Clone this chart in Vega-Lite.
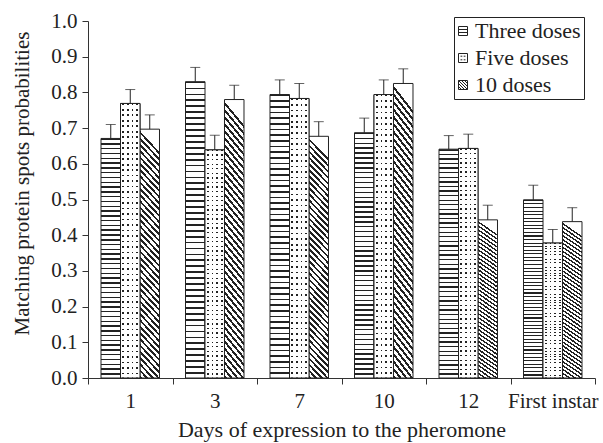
{
"$schema": "https://vega.github.io/schema/vega-lite/v6.json",
"width": 507, "height": 357,
"autosize": {"type": "none"},
"padding": {"left": 88, "top": 21, "right": 8, "bottom": 65},
"background": "white",
"config": {
 "font": "Liberation Serif",
 "view": {"stroke": null},
 "axis": {"labelFont": "Liberation Serif", "titleFont": "Liberation Serif", "labelFontSize": 21, "titleFontSize": 21, "titleFontWeight": "normal", "labelColor": "#222", "titleColor": "#222", "domainColor": "#333", "tickColor": "#333", "grid": false, "domainWidth": 1, "tickWidth": 1, "labelOverlap": false},
 "legend": {"labelFont": "Liberation Serif", "labelFontSize": 22, "labelColor": "#222"}
},
"data": {"values": [
 {"day": "1", "dose": "Three doses", "mean": 0.671, "upper": 0.710},
 {"day": "1", "dose": "Five doses", "mean": 0.769, "upper": 0.808},
 {"day": "1", "dose": "10 doses", "mean": 0.697, "upper": 0.737},
 {"day": "3", "dose": "Three doses", "mean": 0.830, "upper": 0.870},
 {"day": "3", "dose": "Five doses", "mean": 0.639, "upper": 0.680},
 {"day": "3", "dose": "10 doses", "mean": 0.780, "upper": 0.820},
 {"day": "7", "dose": "Three doses", "mean": 0.794, "upper": 0.835},
 {"day": "7", "dose": "Five doses", "mean": 0.783, "upper": 0.825},
 {"day": "7", "dose": "10 doses", "mean": 0.677, "upper": 0.718},
 {"day": "10", "dose": "Three doses", "mean": 0.687, "upper": 0.728},
 {"day": "10", "dose": "Five doses", "mean": 0.794, "upper": 0.835},
 {"day": "10", "dose": "10 doses", "mean": 0.825, "upper": 0.866},
 {"day": "12", "dose": "Three doses", "mean": 0.641, "upper": 0.679},
 {"day": "12", "dose": "Five doses", "mean": 0.643, "upper": 0.683},
 {"day": "12", "dose": "10 doses", "mean": 0.443, "upper": 0.484},
 {"day": "First instar", "dose": "Three doses", "mean": 0.499, "upper": 0.540},
 {"day": "First instar", "dose": "Five doses", "mean": 0.378, "upper": 0.416},
 {"day": "First instar", "dose": "10 doses", "mean": 0.438, "upper": 0.477}
]},
"encoding": {
 "x": {"field": "day", "type": "nominal", "sort": ["1","3","7","10","12","First instar"],
  "scale": {"domain": ["1","3","7","10","12","First instar"], "paddingInner": 0, "paddingOuter": 0},
  "axis": {"title": "Days of expression to the pheromone", "titleFontSize": 22, "labelAngle": 0, "tickBand": "extent", "tickSize": 6, "labelPadding": 6, "titleBaseline": "alphabetic", "titleY": 58}},
 "xOffset": {"field": "dose", "type": "nominal", "sort": ["Three doses","Five doses","10 doses"],
  "scale": {"domain": ["Three doses","Five doses","10 doses"], "paddingInner": 0, "paddingOuter": 0.667}}
},
"layer": [
 {"mark": {"type": "bar", "stroke": "#222", "strokeWidth": 1},
  "encoding": {
   "y": {"field": "mean", "type": "quantitative", "title": "Matching protein spots probabilities",
    "scale": {"domain": [0, 1], "nice": false},
    "axis": {"values": [0,0.1,0.2,0.3,0.4,0.5,0.6,0.7,0.8,0.9,1.0], "tickCount": 11, "format": ".1f", "tickSize": 6, "labelPadding": 5, "labelOverlap": false, "titleX": -60, "titleY": 162, "titleBaseline": "alphabetic"}},
   "fill": {"field": "dose", "type": "nominal", "sort": ["Three doses","Five doses","10 doses"],
    "scale": {"domain": ["Three doses","Five doses","10 doses"], "range": ["#ffffff","#ffffff","#ffffff"]},
    "legend": {"title": null, "orient": "none", "legendX": 366, "legendY": -4, "strokeColor": "#222", "fillColor": "white", "padding": 3, "rowPadding": 5, "symbolSize": 81, "symbolStrokeWidth": 1, "symbolStrokeColor": "#222", "symbolFillColor": "#fff", "symbolOffset": -5, "labelOffset": 1,
     "encode": {"symbols": {"update": {
      "fill": {"value": "#ffffff"},
      "stroke": {"value": "#222"},
      "shape": [
       {"test": "datum.value === 'Three doses'", "value": "M-1,-1H1V1H-1Z M-1,-0.33H1 M-1,0.33H1"},
       {"test": "datum.value === 'Five doses'", "value": "M-1,-1H1V1H-1Z M-0.55,-0.4H-0.15 M0.15,-0.4H0.55 M-0.55,0.4H-0.15 M0.15,0.4H0.55"},
       {"value": "M-1,-1H1V1H-1Z M-1,-1L1,1 M-1,-0.33L0.33,1 M-0.33,-1L1,0.33 M-1,0.33L-0.33,1 M0.33,-1L1,-0.33"}
      ]}}}},
    "condition": [
     {"test": "datum.dose === '10 doses'", "value": {"gradient": "linear", "x1": 0, "y1": 1, "x2": 0.085, "y2": 0, "stops": [
{"offset":0,"color":"#222"},{"offset":0.011,"color":"#222"},{"offset":0.011,"color":"#fff"},{"offset":0.025,"color":"#fff"},
{"offset":0.025,"color":"#222"},{"offset":0.036,"color":"#222"},{"offset":0.036,"color":"#fff"},{"offset":0.05,"color":"#fff"},
{"offset":0.05,"color":"#222"},{"offset":0.061,"color":"#222"},{"offset":0.061,"color":"#fff"},{"offset":0.075,"color":"#fff"},
{"offset":0.075,"color":"#222"},{"offset":0.086,"color":"#222"},{"offset":0.086,"color":"#fff"},{"offset":0.1,"color":"#fff"},
{"offset":0.1,"color":"#222"},{"offset":0.111,"color":"#222"},{"offset":0.111,"color":"#fff"},{"offset":0.125,"color":"#fff"},
{"offset":0.125,"color":"#222"},{"offset":0.136,"color":"#222"},{"offset":0.136,"color":"#fff"},{"offset":0.15,"color":"#fff"},
{"offset":0.15,"color":"#222"},{"offset":0.161,"color":"#222"},{"offset":0.161,"color":"#fff"},{"offset":0.175,"color":"#fff"},
{"offset":0.175,"color":"#222"},{"offset":0.186,"color":"#222"},{"offset":0.186,"color":"#fff"},{"offset":0.2,"color":"#fff"},
{"offset":0.2,"color":"#222"},{"offset":0.211,"color":"#222"},{"offset":0.211,"color":"#fff"},{"offset":0.225,"color":"#fff"},
{"offset":0.225,"color":"#222"},{"offset":0.236,"color":"#222"},{"offset":0.236,"color":"#fff"},{"offset":0.25,"color":"#fff"},
{"offset":0.25,"color":"#222"},{"offset":0.261,"color":"#222"},{"offset":0.261,"color":"#fff"},{"offset":0.275,"color":"#fff"},
{"offset":0.275,"color":"#222"},{"offset":0.286,"color":"#222"},{"offset":0.286,"color":"#fff"},{"offset":0.3,"color":"#fff"},
{"offset":0.3,"color":"#222"},{"offset":0.311,"color":"#222"},{"offset":0.311,"color":"#fff"},{"offset":0.325,"color":"#fff"},
{"offset":0.325,"color":"#222"},{"offset":0.336,"color":"#222"},{"offset":0.336,"color":"#fff"},{"offset":0.35,"color":"#fff"},
{"offset":0.35,"color":"#222"},{"offset":0.361,"color":"#222"},{"offset":0.361,"color":"#fff"},{"offset":0.375,"color":"#fff"},
{"offset":0.375,"color":"#222"},{"offset":0.386,"color":"#222"},{"offset":0.386,"color":"#fff"},{"offset":0.4,"color":"#fff"},
{"offset":0.4,"color":"#222"},{"offset":0.411,"color":"#222"},{"offset":0.411,"color":"#fff"},{"offset":0.425,"color":"#fff"},
{"offset":0.425,"color":"#222"},{"offset":0.436,"color":"#222"},{"offset":0.436,"color":"#fff"},{"offset":0.45,"color":"#fff"},
{"offset":0.45,"color":"#222"},{"offset":0.461,"color":"#222"},{"offset":0.461,"color":"#fff"},{"offset":0.475,"color":"#fff"},
{"offset":0.475,"color":"#222"},{"offset":0.486,"color":"#222"},{"offset":0.486,"color":"#fff"},{"offset":0.5,"color":"#fff"},
{"offset":0.5,"color":"#222"},{"offset":0.511,"color":"#222"},{"offset":0.511,"color":"#fff"},{"offset":0.525,"color":"#fff"},
{"offset":0.525,"color":"#222"},{"offset":0.536,"color":"#222"},{"offset":0.536,"color":"#fff"},{"offset":0.55,"color":"#fff"},
{"offset":0.55,"color":"#222"},{"offset":0.561,"color":"#222"},{"offset":0.561,"color":"#fff"},{"offset":0.575,"color":"#fff"},
{"offset":0.575,"color":"#222"},{"offset":0.586,"color":"#222"},{"offset":0.586,"color":"#fff"},{"offset":0.6,"color":"#fff"},
{"offset":0.6,"color":"#222"},{"offset":0.611,"color":"#222"},{"offset":0.611,"color":"#fff"},{"offset":0.625,"color":"#fff"},
{"offset":0.625,"color":"#222"},{"offset":0.636,"color":"#222"},{"offset":0.636,"color":"#fff"},{"offset":0.65,"color":"#fff"},
{"offset":0.65,"color":"#222"},{"offset":0.661,"color":"#222"},{"offset":0.661,"color":"#fff"},{"offset":0.675,"color":"#fff"},
{"offset":0.675,"color":"#222"},{"offset":0.686,"color":"#222"},{"offset":0.686,"color":"#fff"},{"offset":0.7,"color":"#fff"},
{"offset":0.7,"color":"#222"},{"offset":0.711,"color":"#222"},{"offset":0.711,"color":"#fff"},{"offset":0.725,"color":"#fff"},
{"offset":0.725,"color":"#222"},{"offset":0.736,"color":"#222"},{"offset":0.736,"color":"#fff"},{"offset":0.75,"color":"#fff"},
{"offset":0.75,"color":"#222"},{"offset":0.761,"color":"#222"},{"offset":0.761,"color":"#fff"},{"offset":0.775,"color":"#fff"},
{"offset":0.775,"color":"#222"},{"offset":0.786,"color":"#222"},{"offset":0.786,"color":"#fff"},{"offset":0.8,"color":"#fff"},
{"offset":0.8,"color":"#222"},{"offset":0.811,"color":"#222"},{"offset":0.811,"color":"#fff"},{"offset":0.825,"color":"#fff"},
{"offset":0.825,"color":"#222"},{"offset":0.836,"color":"#222"},{"offset":0.836,"color":"#fff"},{"offset":0.85,"color":"#fff"},
{"offset":0.85,"color":"#222"},{"offset":0.861,"color":"#222"},{"offset":0.861,"color":"#fff"},{"offset":0.875,"color":"#fff"},
{"offset":0.875,"color":"#222"},{"offset":0.886,"color":"#222"},{"offset":0.886,"color":"#fff"},{"offset":0.9,"color":"#fff"},
{"offset":0.9,"color":"#222"},{"offset":0.911,"color":"#222"},{"offset":0.911,"color":"#fff"},{"offset":0.925,"color":"#fff"},
{"offset":0.925,"color":"#222"},{"offset":0.936,"color":"#222"},{"offset":0.936,"color":"#fff"},{"offset":0.95,"color":"#fff"},
{"offset":0.95,"color":"#222"},{"offset":0.961,"color":"#222"},{"offset":0.961,"color":"#fff"},{"offset":0.975,"color":"#fff"},
{"offset":0.975,"color":"#222"},{"offset":0.986,"color":"#222"},{"offset":0.986,"color":"#fff"},{"offset":1,"color":"#fff"}
     ]}},
     {"test": "datum.dose !== '10 doses'", "value": {"gradient": "linear", "x1": 1, "y1": 0, "x2": 1, "y2": 1, "stops": [
{"offset":0,"color":"#222"},{"offset":0.006,"color":"#222"},{"offset":0.006,"color":"#fff"},{"offset":0.02,"color":"#fff"},
{"offset":0.02,"color":"#222"},{"offset":0.026,"color":"#222"},{"offset":0.026,"color":"#fff"},{"offset":0.04,"color":"#fff"},
{"offset":0.04,"color":"#222"},{"offset":0.046,"color":"#222"},{"offset":0.046,"color":"#fff"},{"offset":0.06,"color":"#fff"},
{"offset":0.06,"color":"#222"},{"offset":0.066,"color":"#222"},{"offset":0.066,"color":"#fff"},{"offset":0.08,"color":"#fff"},
{"offset":0.08,"color":"#222"},{"offset":0.086,"color":"#222"},{"offset":0.086,"color":"#fff"},{"offset":0.1,"color":"#fff"},
{"offset":0.1,"color":"#222"},{"offset":0.106,"color":"#222"},{"offset":0.106,"color":"#fff"},{"offset":0.12,"color":"#fff"},
{"offset":0.12,"color":"#222"},{"offset":0.126,"color":"#222"},{"offset":0.126,"color":"#fff"},{"offset":0.14,"color":"#fff"},
{"offset":0.14,"color":"#222"},{"offset":0.146,"color":"#222"},{"offset":0.146,"color":"#fff"},{"offset":0.16,"color":"#fff"},
{"offset":0.16,"color":"#222"},{"offset":0.166,"color":"#222"},{"offset":0.166,"color":"#fff"},{"offset":0.18,"color":"#fff"},
{"offset":0.18,"color":"#222"},{"offset":0.186,"color":"#222"},{"offset":0.186,"color":"#fff"},{"offset":0.2,"color":"#fff"},
{"offset":0.2,"color":"#222"},{"offset":0.206,"color":"#222"},{"offset":0.206,"color":"#fff"},{"offset":0.22,"color":"#fff"},
{"offset":0.22,"color":"#222"},{"offset":0.226,"color":"#222"},{"offset":0.226,"color":"#fff"},{"offset":0.24,"color":"#fff"},
{"offset":0.24,"color":"#222"},{"offset":0.246,"color":"#222"},{"offset":0.246,"color":"#fff"},{"offset":0.26,"color":"#fff"},
{"offset":0.26,"color":"#222"},{"offset":0.266,"color":"#222"},{"offset":0.266,"color":"#fff"},{"offset":0.28,"color":"#fff"},
{"offset":0.28,"color":"#222"},{"offset":0.286,"color":"#222"},{"offset":0.286,"color":"#fff"},{"offset":0.3,"color":"#fff"},
{"offset":0.3,"color":"#222"},{"offset":0.306,"color":"#222"},{"offset":0.306,"color":"#fff"},{"offset":0.32,"color":"#fff"},
{"offset":0.32,"color":"#222"},{"offset":0.326,"color":"#222"},{"offset":0.326,"color":"#fff"},{"offset":0.34,"color":"#fff"},
{"offset":0.34,"color":"#222"},{"offset":0.346,"color":"#222"},{"offset":0.346,"color":"#fff"},{"offset":0.36,"color":"#fff"},
{"offset":0.36,"color":"#222"},{"offset":0.366,"color":"#222"},{"offset":0.366,"color":"#fff"},{"offset":0.38,"color":"#fff"},
{"offset":0.38,"color":"#222"},{"offset":0.386,"color":"#222"},{"offset":0.386,"color":"#fff"},{"offset":0.4,"color":"#fff"},
{"offset":0.4,"color":"#222"},{"offset":0.406,"color":"#222"},{"offset":0.406,"color":"#fff"},{"offset":0.42,"color":"#fff"},
{"offset":0.42,"color":"#222"},{"offset":0.426,"color":"#222"},{"offset":0.426,"color":"#fff"},{"offset":0.44,"color":"#fff"},
{"offset":0.44,"color":"#222"},{"offset":0.446,"color":"#222"},{"offset":0.446,"color":"#fff"},{"offset":0.46,"color":"#fff"},
{"offset":0.46,"color":"#222"},{"offset":0.466,"color":"#222"},{"offset":0.466,"color":"#fff"},{"offset":0.48,"color":"#fff"},
{"offset":0.48,"color":"#222"},{"offset":0.486,"color":"#222"},{"offset":0.486,"color":"#fff"},{"offset":0.5,"color":"#fff"},
{"offset":0.5,"color":"#222"},{"offset":0.506,"color":"#222"},{"offset":0.506,"color":"#fff"},{"offset":0.52,"color":"#fff"},
{"offset":0.52,"color":"#222"},{"offset":0.526,"color":"#222"},{"offset":0.526,"color":"#fff"},{"offset":0.54,"color":"#fff"},
{"offset":0.54,"color":"#222"},{"offset":0.546,"color":"#222"},{"offset":0.546,"color":"#fff"},{"offset":0.56,"color":"#fff"},
{"offset":0.56,"color":"#222"},{"offset":0.566,"color":"#222"},{"offset":0.566,"color":"#fff"},{"offset":0.58,"color":"#fff"},
{"offset":0.58,"color":"#222"},{"offset":0.586,"color":"#222"},{"offset":0.586,"color":"#fff"},{"offset":0.6,"color":"#fff"},
{"offset":0.6,"color":"#222"},{"offset":0.606,"color":"#222"},{"offset":0.606,"color":"#fff"},{"offset":0.62,"color":"#fff"},
{"offset":0.62,"color":"#222"},{"offset":0.626,"color":"#222"},{"offset":0.626,"color":"#fff"},{"offset":0.64,"color":"#fff"},
{"offset":0.64,"color":"#222"},{"offset":0.646,"color":"#222"},{"offset":0.646,"color":"#fff"},{"offset":0.66,"color":"#fff"},
{"offset":0.66,"color":"#222"},{"offset":0.666,"color":"#222"},{"offset":0.666,"color":"#fff"},{"offset":0.68,"color":"#fff"},
{"offset":0.68,"color":"#222"},{"offset":0.686,"color":"#222"},{"offset":0.686,"color":"#fff"},{"offset":0.7,"color":"#fff"},
{"offset":0.7,"color":"#222"},{"offset":0.706,"color":"#222"},{"offset":0.706,"color":"#fff"},{"offset":0.72,"color":"#fff"},
{"offset":0.72,"color":"#222"},{"offset":0.726,"color":"#222"},{"offset":0.726,"color":"#fff"},{"offset":0.74,"color":"#fff"},
{"offset":0.74,"color":"#222"},{"offset":0.746,"color":"#222"},{"offset":0.746,"color":"#fff"},{"offset":0.76,"color":"#fff"},
{"offset":0.76,"color":"#222"},{"offset":0.766,"color":"#222"},{"offset":0.766,"color":"#fff"},{"offset":0.78,"color":"#fff"},
{"offset":0.78,"color":"#222"},{"offset":0.786,"color":"#222"},{"offset":0.786,"color":"#fff"},{"offset":0.8,"color":"#fff"},
{"offset":0.8,"color":"#222"},{"offset":0.806,"color":"#222"},{"offset":0.806,"color":"#fff"},{"offset":0.82,"color":"#fff"},
{"offset":0.82,"color":"#222"},{"offset":0.826,"color":"#222"},{"offset":0.826,"color":"#fff"},{"offset":0.84,"color":"#fff"},
{"offset":0.84,"color":"#222"},{"offset":0.846,"color":"#222"},{"offset":0.846,"color":"#fff"},{"offset":0.86,"color":"#fff"},
{"offset":0.86,"color":"#222"},{"offset":0.866,"color":"#222"},{"offset":0.866,"color":"#fff"},{"offset":0.88,"color":"#fff"},
{"offset":0.88,"color":"#222"},{"offset":0.886,"color":"#222"},{"offset":0.886,"color":"#fff"},{"offset":0.9,"color":"#fff"},
{"offset":0.9,"color":"#222"},{"offset":0.906,"color":"#222"},{"offset":0.906,"color":"#fff"},{"offset":0.92,"color":"#fff"},
{"offset":0.92,"color":"#222"},{"offset":0.926,"color":"#222"},{"offset":0.926,"color":"#fff"},{"offset":0.94,"color":"#fff"},
{"offset":0.94,"color":"#222"},{"offset":0.946,"color":"#222"},{"offset":0.946,"color":"#fff"},{"offset":0.96,"color":"#fff"},
{"offset":0.96,"color":"#222"},{"offset":0.966,"color":"#222"},{"offset":0.966,"color":"#fff"},{"offset":0.98,"color":"#fff"},
{"offset":0.98,"color":"#222"},{"offset":0.986,"color":"#222"},{"offset":0.986,"color":"#fff"},{"offset":1,"color":"#fff"}
     ]}}
    ]}
  }},
 {"transform": [{"filter": "datum.dose === 'Five doses'"}],
  "mark": {"type": "bar", "stroke": "#222", "strokeWidth": 1,
   "fill": {"gradient": "linear", "x1": 0, "y1": 0, "x2": 1, "y2": 0, "stops": [
    {"offset":0,"color":"#ffffff"},{"offset":0.095,"color":"#ffffff"},{"offset":0.095,"color":"rgba(255,255,255,0)"},{"offset":0.185,"color":"rgba(255,255,255,0)"},
    {"offset":0.185,"color":"#ffffff"},{"offset":0.335,"color":"#ffffff"},{"offset":0.335,"color":"rgba(255,255,255,0)"},{"offset":0.425,"color":"rgba(255,255,255,0)"},
    {"offset":0.425,"color":"#ffffff"},{"offset":0.575,"color":"#ffffff"},{"offset":0.575,"color":"rgba(255,255,255,0)"},{"offset":0.665,"color":"rgba(255,255,255,0)"},
    {"offset":0.665,"color":"#ffffff"},{"offset":0.815,"color":"#ffffff"},{"offset":0.815,"color":"rgba(255,255,255,0)"},{"offset":0.905,"color":"rgba(255,255,255,0)"},
    {"offset":0.905,"color":"#ffffff"},{"offset":1,"color":"#ffffff"}
   ]}},
  "encoding": {
   "y": {"field": "mean", "type": "quantitative", "title": "Matching protein spots probabilities",
    "axis": {"values": [0,0.1,0.2,0.3,0.4,0.5,0.6,0.7,0.8,0.9,1.0], "tickCount": 11, "format": ".1f", "tickSize": 6, "labelPadding": 5, "labelOverlap": false, "titleX": -60, "titleY": 162, "titleBaseline": "alphabetic"}}
  }},
 {"mark": {"type": "rule", "stroke": "#222", "strokeWidth": 1},
  "encoding": {
   "y": {"field": "mean", "type": "quantitative", "title": "Matching protein spots probabilities",
    "axis": {"values": [0,0.1,0.2,0.3,0.4,0.5,0.6,0.7,0.8,0.9,1.0], "tickCount": 11, "format": ".1f", "tickSize": 6, "labelPadding": 5, "labelOverlap": false, "titleX": -60, "titleY": 162, "titleBaseline": "alphabetic"}},
   "y2": {"field": "upper"}
  }},
 {"mark": {"type": "tick", "color": "#222", "size": 10, "thickness": 1, "orient": "horizontal"},
  "encoding": {
   "y": {"field": "upper", "type": "quantitative", "title": "Matching protein spots probabilities",
    "axis": {"values": [0,0.1,0.2,0.3,0.4,0.5,0.6,0.7,0.8,0.9,1.0], "tickCount": 11, "format": ".1f", "tickSize": 6, "labelPadding": 5, "labelOverlap": false, "titleX": -60, "titleY": 162, "titleBaseline": "alphabetic"}}
  }}
]
}
